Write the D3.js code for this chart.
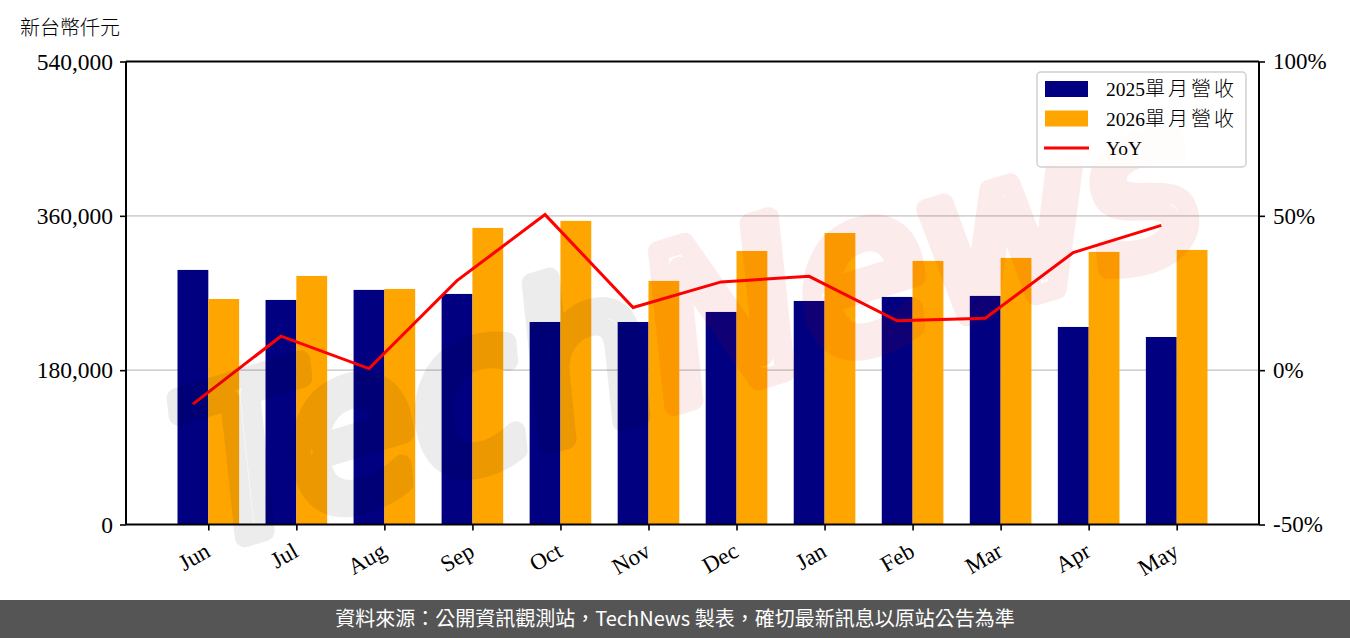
<!DOCTYPE html>
<html>
<head>
<meta charset="utf-8">
<script src="https://cdn.jsdelivr.net/npm/d3@7"></script>
<style>
  html, body { margin: 0; padding: 0; background: #fff; }
  svg { display: block; }
</style>
</head>
<body>
<svg id="chart" width="1350" height="638"></svg>
<script>
// ---- data ----
const months = ["Jun","Jul","Aug","Sep","Oct","Nov","Dec","Jan","Feb","Mar","Apr","May"];
const revenue2025 = [296900, 261900, 273600, 268900, 236200, 236200, 247900, 260700, 265400, 266600, 230400, 218700];
const revenue2026 = [263000, 289900, 274700, 345900, 354100, 284100, 319000, 340000, 307400, 310900, 317900, 320200];
const yoy = [-11.0, 11.0, 0.5, 29.0, 50.4, 20.3, 28.6, 30.4, 16.0, 16.8, 38.1, 46.9];
const leftTicks = [0, 180000, 360000, 540000];
const rightTicks = [-50, 0, 50, 100];
const seriesNames = ["2025單月營收", "2026單月營收", "YoY"];
const unitLabel = "新台幣仟元";
const footerText = "資料來源：公開資訊觀測站，TechNews 製表，確切最新訊息以原站公告為準";
const watermarkText = "TechNews";

// ---- layout ----
const W = 1350, H = 638;
const L = 126, R = 1259, T = 61.5, B = 524.5;
const barW = 0.35;
const serif = "'Liberation Serif', 'Noto Sans CJK TC', serif";
const cjk = "'Noto Sans CJK TC', sans-serif";

const svg = d3.select("#chart");
svg.append("rect").attr("width", W).attr("height", H).attr("fill", "#fff");

const x = d3.scaleLinear().domain([-0.935, 11.935]).range([L, R]);
const yL = d3.scaleLinear().domain([0, 540000]).range([B, T]);
const yR = d3.scaleLinear().domain([-50, 100]).range([B, T]);

// grid
svg.append("g").selectAll("line").data(leftTicks.filter(d => d > 0 && d < 540000)).join("line")
  .attr("x1", L).attr("x2", R).attr("y1", d => yL(d)).attr("y2", d => yL(d))
  .attr("stroke", "#d3d3d3").attr("stroke-width", 1.6);

// bars
const idx = d3.range(months.length);
svg.append("g").selectAll("rect").data(idx).join("rect")
  .attr("x", i => x(i - barW)).attr("width", x(barW) - x(0))
  .attr("y", i => yL(revenue2025[i])).attr("height", i => yL(0) - yL(revenue2025[i]))
  .attr("fill", "#000080");
svg.append("g").selectAll("rect").data(idx).join("rect")
  .attr("x", i => x(i)).attr("width", x(barW) - x(0))
  .attr("y", i => yL(revenue2026[i])).attr("height", i => yL(0) - yL(revenue2026[i]))
  .attr("fill", "#FFA500");

// yoy line
const line = d3.line().x(i => x(i - barW / 2)).y(i => yR(yoy[i]));
svg.append("path").datum(idx).attr("d", line)
  .attr("fill", "none").attr("stroke", "#FF0000").attr("stroke-width", 3)
  .attr("stroke-linejoin", "miter");

// axes
const axL = d3.axisLeft(yL).tickValues(leftTicks).tickSize(6).tickPadding(7)
  .tickFormat(d => d === 0 ? "0" : d3.format(",")(d));
const gL = svg.append("g").attr("transform", `translate(${L},0)`).call(axL);
const axR = d3.axisRight(yR).tickValues(rightTicks).tickSize(6).tickPadding(8)
  .tickFormat(d => d + "%");
const gR = svg.append("g").attr("transform", `translate(${R},0)`).call(axR);
const axB = d3.axisBottom(x).tickValues(idx).tickSize(6).tickFormat(i => months[i]);
const gB = svg.append("g").attr("transform", `translate(0,${B})`).call(axB);
const axT = d3.axisTop(x).tickValues([]).tickSize(0);
const gT = svg.append("g").attr("transform", `translate(0,${T})`).call(axT);

[gL, gR, gB, gT].forEach(g => {
  g.select(".domain").attr("stroke", "#000").attr("stroke-width", 2);
  g.selectAll(".tick line").attr("stroke", "#000").attr("stroke-width", 1.6);
  g.selectAll("text").attr("fill", "#000").style("font-family", serif).style("font-size", "23.5px");
});
gR.selectAll("text").style("font-size", "23px");
gL.select(".domain").attr("d", `M0,${T}V${B}`);
gR.select(".domain").attr("d", `M0,${T}V${B}`);
gB.select(".domain").attr("d", `M${L},0H${R}`);
gT.select(".domain").attr("d", `M${L},0H${R}`);
gB.selectAll(".tick text")
  .attr("text-anchor", "end").attr("y", 0).attr("dy", 0)
  .attr("transform", "translate(3,31) rotate(-30)")
  .style("font-size", "23px");

// watermark (decorative logo), drawn letter by letter, under the legend
const wm = svg.append("g").attr("transform", "translate(690,328) rotate(-17)").attr("pointer-events", "none");
const wmStyle = sel => sel
  .style("font-family", "'DejaVu Sans', sans-serif").style("font-style", "italic")
  .style("font-size", "210px").attr("fill", "none")
  .attr("stroke-width", 20).attr("stroke-linejoin", "round").attr("stroke-linecap", "round");
const measure = wm.append("text").attr("text-anchor", "middle").attr("y", 70).text(watermarkText).call(wmStyle);
const mNode = measure.node();
const charPos = Array.from(watermarkText).map((c, i) => {
  const p = mNode.getStartPositionOfChar(i);
  return { c, x: p.x, y: p.y, k: i };
});
measure.remove();
wm.selectAll("text.wm").data(charPos).join("text").attr("class", "wm")
  .attr("x", d => d.x).attr("y", d => d.y).text(d => d.c).call(wmStyle)
  .attr("stroke", d => d.k < 4 ? "#000" : "#c80000")
  .attr("stroke-opacity", d => d.k < 4 ? 0.075 : 0.08);

// legend
const lg = svg.append("g");
lg.append("rect").attr("x", 1037).attr("y", 72).attr("width", 209).attr("height", 95)
  .attr("rx", 4).attr("fill", "rgba(255,255,255,0.85)").attr("stroke", "#d0d0d0").attr("stroke-width", 1.5);
const rowsY = [89, 118.5, 148];
lg.append("rect").attr("x", 1045).attr("y", rowsY[0] - 8).attr("width", 43).attr("height", 16).attr("fill", "#000080");
lg.append("rect").attr("x", 1045).attr("y", rowsY[1] - 8).attr("width", 43).attr("height", 16).attr("fill", "#FFA500");
lg.append("line").attr("x1", 1044).attr("x2", 1089).attr("y1", rowsY[2]).attr("y2", rowsY[2])
  .attr("stroke", "#FF0000").attr("stroke-width", 3);
seriesNames.forEach((name, k) => {
  const t = lg.append("text").attr("x", 1106).attr("y", rowsY[k] + 7)
    .attr("fill", "#000").style("font-family", serif).style("font-size", "19.5px");
  const m = name.match(/^([0-9A-Za-z]*)(.*)$/);
  t.append("tspan").text(m[1]);
  if (m[2]) t.append("tspan").style("font-family", cjk).style("font-size", "20px")
    .style("letter-spacing", "3px").style("font-weight", 300).text(m[2]);
});

// unit label
svg.append("text").attr("x", 20).attr("y", 35).text(unitLabel)
  .attr("fill", "#000").style("font-family", cjk).style("font-size", "20px").style("font-weight", 300);

// footer
svg.append("rect").attr("x", 0).attr("y", 600).attr("width", W).attr("height", 38).attr("fill", "#555555");
svg.append("text").attr("x", W / 2).attr("y", 626).attr("text-anchor", "middle")
  .attr("fill", "#fff").style("font-family", cjk).style("font-size", "20px").text(footerText);
</script>
</body>
</html>
